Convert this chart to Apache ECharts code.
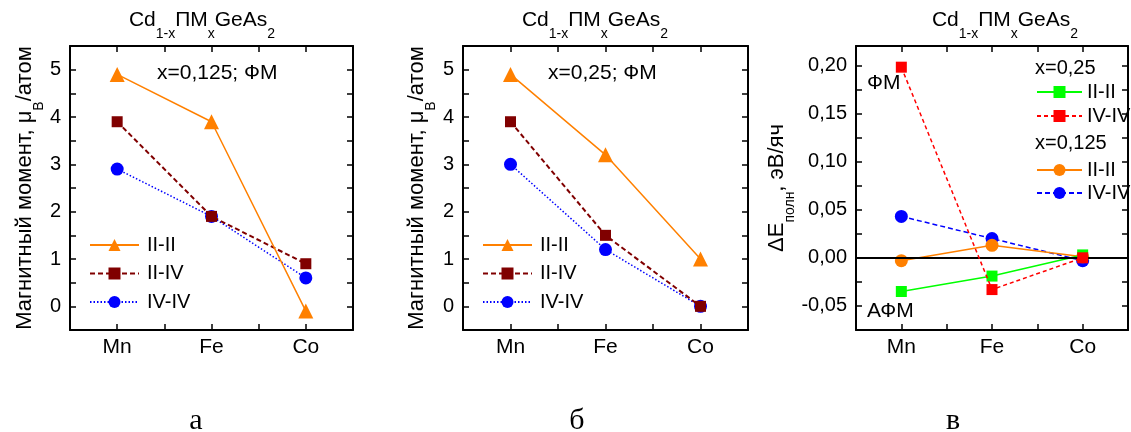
<!DOCTYPE html>
<html>
<head>
<meta charset="utf-8">
<script src="https://cdn.jsdelivr.net/npm/echarts@6/dist/echarts.min.js"></script>
<style>
html,body{margin:0;padding:0;background:#fff;}
#chart{width:1131px;height:432px;}
</style>
</head>
<body>
<div id="chart"></div>
<script>
// данные
var categories = ['Mn', 'Fe', 'Co'];
// а: x=0,125
var a_II_II = [4.9, 3.9, -0.1];
var a_II_IV = [3.9, 1.9, 0.9];
var a_IV_IV = [2.9, 1.9, 0.6];
// б: x=0,25
var b_II_II = [4.9, 3.2, 1.0];
var b_II_IV = [3.9, 1.5, 0.0];
var b_IV_IV = [3.0, 1.2, 0.0];
// в: dE, эВ/яч
var c25_II_II = [-0.035, -0.019, 0.003];
var c25_IV_IV = [0.198, -0.033, 0.000];
var c125_II_II = [-0.003, 0.013, 0.001];
var c125_IV_IV = [0.043, 0.020, -0.003];

var FONT = '"Liberation Sans", Arial, sans-serif';
var ORANGE = '#FF8000', DRED = '#800000', BLUE = '#0000FF', GREEN = '#00FF00', RED = '#FF0000';

function pts(arr) {
    return arr.map(function (v, i) { return [i + 1, v]; });
}
function xFmt(v) {
    var k = Math.round(v);
    return (Math.abs(v - k) < 1e-6 && k >= 1 && k <= 3) ? categories[k - 1] : '';
}
function intFmt(v) {
    var k = Math.round(v);
    return Math.abs(v - k) < 1e-6 ? String(k) : '';
}
function eFmt(v) {
    var k = v / 0.05;
    if (Math.abs(k - Math.round(k)) < 1e-6) {
        var s = (Math.round(k) * 0.05).toFixed(2);
        if (s === '-0.00') s = '0.00';
        return s.replace('.', ',');
    }
    return '';
}

var subRich = {s: {fontSize: 14, fontFamily: FONT, color: '#000', padding: [28, 0, 0, 0]}};

var grids = [
    {left: 70, top: 46, width: 283, height: 284},
    {left: 463, top: 46, width: 285, height: 284},
    {left: 856, top: 46, width: 285, height: 284}
];

var xAxes = [], yAxes = [];
var yRanges = [[-0.5, 5.5, 0.5, intFmt], [-0.5, 5.5, 0.5, intFmt], [-0.075, 0.22, 0.025, eFmt]];
var yNames = ['Магнитный момент, μ{s|B}/атом', 'Магнитный момент, μ{s|B}/атом', 'ΔE{s|полн}, эВ/яч'];
var yGaps = [22, 25, 27];
for (var p = 0; p < 3; p++) {
    var axLine = {show: true, onZero: false, lineStyle: {color: '#000', width: 2}};
    xAxes.push({
        gridIndex: p, type: 'value', min: 0.5, max: 3.5, interval: 0.5, position: 'bottom',
        axisLine: axLine, axisTick: {inside: true, length: 6, lineStyle: {color: '#000', width: 1.5}},
        axisLabel: {formatter: xFmt, fontSize: 21, fontFamily: FONT, color: '#000', margin: 7},
        splitLine: {show: false}
    });
    xAxes.push({
        gridIndex: p, type: 'value', min: 0.5, max: 3.5, interval: 0.5, position: 'top',
        axisLine: axLine, axisTick: {inside: true, length: 6, lineStyle: {color: '#000', width: 1.5}},
        axisLabel: {show: false}, splitLine: {show: false}
    });
    var r = yRanges[p];
    yAxes.push({
        gridIndex: p, type: 'value', min: r[0], max: r[1], interval: r[2], position: 'left',
        axisLine: axLine, axisTick: {inside: true, length: 6, lineStyle: {color: '#000', width: 1.5}},
        axisLabel: {formatter: r[3], fontSize: 20, fontFamily: FONT, color: '#000', margin: 9},
        splitLine: {show: false},
        name: yNames[p], nameLocation: 'middle', nameRotate: 90, nameGap: yGaps[p],
        nameTextStyle: {fontSize: 22, fontFamily: FONT, color: '#000', rich: subRich}
    });
    yAxes.push({
        gridIndex: p, type: 'value', min: r[0], max: r[1], interval: r[2], position: 'right',
        axisLine: axLine, axisTick: {inside: true, length: 6, lineStyle: {color: '#000', width: 1.5}},
        axisLabel: {show: false}, splitLine: {show: false}
    });
}

function ser(name, p, data, color, symbol, size, lineType, width, z) {
    return {
        name: name, type: 'line', xAxisIndex: 2 * p, yAxisIndex: 2 * p,
        data: pts(data), symbol: symbol, symbolSize: size, z: z,
        itemStyle: {color: color},
        lineStyle: {color: color, width: width, type: lineType},
        animation: false
    };
}

var series = [
    ser('a|IV-IV', 0, a_IV_IV, BLUE, 'circle', 13, [1.5, 2], 1.5, 2),
    ser('a|II-IV', 0, a_II_IV, DRED, 'rect', 11, [5, 3], 2, 3),
    ser('a|II-II', 0, a_II_II, ORANGE, 'triangle', 15, 'solid', 1.5, 4),
    ser('b|IV-IV', 1, b_IV_IV, BLUE, 'circle', 13, [1.5, 2], 1.5, 2),
    ser('b|II-IV', 1, b_II_IV, DRED, 'rect', 11, [5, 3], 2, 3),
    ser('b|II-II', 1, b_II_II, ORANGE, 'triangle', 15, 'solid', 1.5, 4),
    ser('c125|IV-IV', 2, c125_IV_IV, BLUE, 'circle', 13, [5, 3], 1.5, 2),
    ser('c125|II-II', 2, c125_II_II, ORANGE, 'circle', 13, 'solid', 1.5, 3),
    ser('c25|II-II', 2, c25_II_II, GREEN, 'rect', 11, 'solid', 1.5, 4),
    ser('c25|IV-IV', 2, c25_IV_IV, RED, 'rect', 11, [4, 3], 1.5, 5)
];
// нулевая линия на графике в
series[6].markLine = {
    silent: true, symbol: ['none', 'none'], label: {show: false},
    lineStyle: {color: '#000', width: 2, type: 'solid'},
    data: [{yAxis: 0}]
};

function legendFmt(name) { return name.split('|')[1]; }
function mkLegend(data, left, top, gap, width, pad) {
    return {
        data: data, left: left, top: top, orient: 'vertical', itemGap: gap, padding: 0,
        itemWidth: width, itemHeight: 15, formatter: legendFmt, selectedMode: false,
        textStyle: {fontSize: 20, fontFamily: FONT, color: '#000', lineHeight: 20, padding: [0, 0, 0, pad]}
    };
}
var legends = [
    mkLegend(['a|II-II', 'a|II-IV', 'a|IV-IV'], 89, 235, 8.5, 49, 3),
    mkLegend(['b|II-II', 'b|II-IV', 'b|IV-IV'], 482, 235, 8.5, 49, 3),
    mkLegend(['c25|II-II', 'c25|IV-IV'], 1036, 82, 4, 45, 0),
    mkLegend(['c125|II-II', 'c125|IV-IV'], 1036, 160, 3, 45, 0)
];

function txt(x, y, text, size, align, family) {
    return {
        type: 'text', x: x, y: y, silent: true,
        style: {
            text: text, fill: '#000', font: size + 'px ' + (family || FONT),
            align: align || 'left', verticalAlign: 'middle', rich: subRich
        }
    };
}
var SERIF = '"Liberation Serif", "Times New Roman", serif';
var graphics = [
    txt(202, 20, 'Cd{s|1-x}ПМ{s|x}GeAs{s|2}', 21, 'center'),
    txt(595, 20, 'Cd{s|1-x}ПМ{s|x}GeAs{s|2}', 21, 'center'),
    txt(1005, 20, 'Cd{s|1-x}ПМ{s|x}GeAs{s|2}', 21, 'center'),
    txt(157, 73, 'x=0,125; ФМ', 21),
    txt(548, 73, 'x=0,25; ФМ', 21),
    txt(867, 83, 'ФМ', 21),
    txt(867, 311, 'АФМ', 21),
    txt(1035, 68, 'x=0,25', 20),
    txt(1035, 143, 'x=0,125', 20),
    txt(196, 421, 'а', 30, 'center', SERIF),
    txt(577, 421, 'б', 30, 'center', SERIF),
    txt(953, 421, 'в', 30, 'center', SERIF)
];

var myChart = echarts.init(document.getElementById('chart'));
myChart.setOption({
    backgroundColor: '#fff',
    animation: false,
    grid: grids,
    xAxis: xAxes,
    yAxis: yAxes,
    legend: legends,
    series: series,
    graphic: graphics
});
</script>
</body>
</html>
